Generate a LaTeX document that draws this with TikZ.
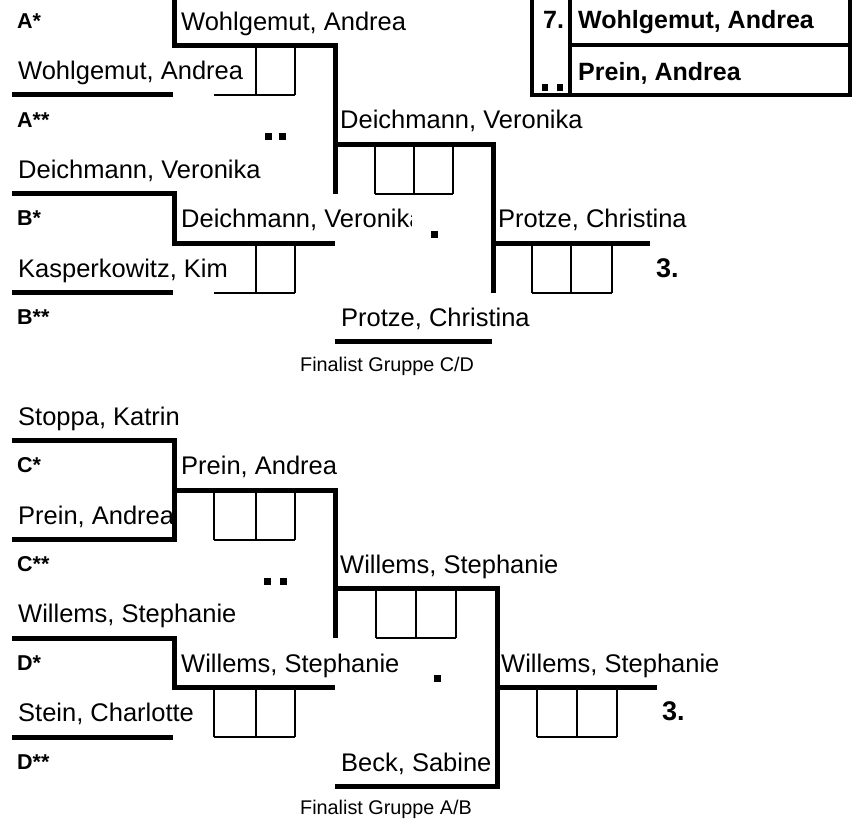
\documentclass[tikz,border=0pt]{standalone}
\usepackage{fontspec}
\setmainfont{Liberation Sans}
\begin{document}
\begin{tikzpicture}[x=1pt,y=-1pt,
  thk/.style={line width=5pt, line join=miter},
  thn/.style={line width=2pt},
  tbl/.style={line width=4pt, line join=miter},
  nm/.style={font=\fontsize{25.5}{30}\selectfont, anchor=base west, inner sep=0pt},
  nmb/.style={font=\fontsize{25}{30}\selectfont\bfseries, anchor=base west, inner sep=0pt},
  lbl/.style={font=\fontsize{21.5}{26}\selectfont\bfseries, anchor=west, inner sep=0pt},
  plc/.style={font=\fontsize{27}{32}\selectfont\bfseries, anchor=west, inner sep=0pt},
  fin/.style={font=\fontsize{19.8}{24}\selectfont, anchor=west, inner sep=0pt},
  sq/.style={fill=black}
]
\useasboundingbox (0,0) rectangle (865,823);

% ---------- upper block ----------
\draw[thk] (174,0) -- (174,45.5) -- (335,45.5) -- (335,193.7);
\draw[thk] (12,94.9) -- (173,94.9);
\draw[thk] (12,193.7) -- (174,193.7) -- (174,243.1) -- (335,243.1);
\draw[thk] (12,292.5) -- (173,292.5);
\draw[thk] (335,144.3) -- (493,144.3) -- (493,292.5);
\draw[thk] (493,243.1) -- (650,243.1);
\draw[thk] (335,341.9) -- (492,341.9);

% boxes
\draw[thn] (256,45.5) -- (256,94.9) (295,45.5) -- (295,94.9) (214,94.9) -- (295,94.9);
\draw[thn] (256,243.1) -- (256,292.5) (295,243.1) -- (295,292.5) (214,292.5) -- (295,292.5);
\draw[thn] (375,144.3) -- (375,193.7) (414,144.3) -- (414,193.7) (453,144.3) -- (453,193.7) (375,193.7) -- (453,193.7);
\draw[thn] (532,243.1) -- (532,292.5) (571,243.1) -- (571,292.5) (612,243.1) -- (612,292.5) (532,292.5) -- (612,292.5);

% table top right
\draw[tbl] (531.7,0) -- (531.7,95) -- (850,95) -- (850,0);
\draw[tbl] (570,0) -- (570,95);
\draw[tbl] (570,45) -- (850,45);

% squares
\fill[sq] (265,132.5) rectangle +(7,7);
\fill[sq] (279,132.5) rectangle +(7,7);
\fill[sq] (431,231.2) rectangle +(7,7);
\fill[sq] (541.7,84) rectangle +(6.7,6.7);
\fill[sq] (556.7,84) rectangle +(6.7,6.7);

% labels
\node[lbl] (la1) at (17,20.8) {A*};
\node[lbl] (la2) at (17,119.6) {A**};
\node[lbl] (lb1) at (17,218.4) {B*};
\node[lbl] (lb2) at (17,317.2) {B**};

% names left
\node[nm] (n1) at (18,79.4) {Wohlgemut, Andrea};
\node[nm] (n2) at (18,178.2) {Deichmann, Veronika};
\node[nm] (n3) at (18,277) {Kasperkowitz, Kim};

% names second column
\node[nm] (m1) at (181,30) {Wohlgemut, Andrea};
\begin{scope}
  \clip (176,200) rectangle (411,240);
  \node[nm] (m2) at (181,227.6) {Deichmann, Veronika};
\end{scope}

% third column
\node[nm] (s1) at (340,128.8) {Deichmann, Veronika};
\node[nm] (s2) at (341,326.4) {Protze, Christina};

% final
\node[nm] (f1) at (498,227.6) {Protze, Christina};
\node[plc] (p1) at (656,268.5) {3.};
\node[fin] (g1) at (300,366) {Finalist Gruppe C/D};

% table texts
\node[nmb] (t7) at (543,28) {7.};
\node[nmb] (t1) at (578,28) {Wohlgemut, Andrea};
\node[nmb] (t2) at (578,80) {Prein, Andrea};

% ---------- lower block ----------
\draw[thk] (12,440.7) -- (174,440.7) -- (174,539.5) -- (12,539.5);
\draw[thk] (174,490.1) -- (335,490.1) -- (335,638.3);
\draw[thk] (12,638.3) -- (174,638.3) -- (174,687.7) -- (335,687.7);
\draw[thk] (12,737.1) -- (173,737.1);
\draw[thk] (335,588.9) -- (497,588.9) -- (497,786.5) -- (335,786.5);
\draw[thk] (497,687.7) -- (657,687.7);

\draw[thn] (214,490.1) -- (214,539.5) (256,490.1) -- (256,539.5) (295,490.1) -- (295,539.5) (214,539.5) -- (295,539.5);
\draw[thn] (214,687.7) -- (214,737.1) (256,687.7) -- (256,737.1) (295,687.7) -- (295,737.1) (214,737.1) -- (295,737.1);
\draw[thn] (376,588.9) -- (376,638.3) (416,588.9) -- (416,638.3) (456,588.9) -- (456,638.3) (376,638.3) -- (456,638.3);
\draw[thn] (537,687.7) -- (537,737.1) (577,687.7) -- (577,737.1) (617,687.7) -- (617,737.1) (537,737.1) -- (617,737.1);

\fill[sq] (264,577.5) rectangle +(7,7);
\fill[sq] (279.5,577.5) rectangle +(7,7);
\fill[sq] (433.5,675) rectangle +(7,7);

\node[lbl] (lc1) at (17,465.4) {C*};
\node[lbl] (lc2) at (17,564.2) {C**};
\node[lbl] (ld1) at (17,663) {D*};
\node[lbl] (ld2) at (17,761.8) {D**};

\node[nm] (n4) at (18,425.2) {Stoppa, Katrin};
\node[nm] (n5) at (18,524) {Prein, Andrea};
\node[nm] (n6) at (18,622.8) {Willems, Stephanie};
\node[nm] (n7) at (18,721.6) {Stein, Charlotte};

\node[nm] (m3) at (181,474.6) {Prein, Andrea};
\node[nm] (m4) at (181,672.2) {Willems, Stephanie};

\node[nm] (s3) at (340,573.4) {Willems, Stephanie};
\node[nm] (s4) at (341,771) {Beck, Sabine};

\node[nm] (f2) at (501,672.2) {Willems, Stephanie};
\node[plc] (p2) at (662,711) {3.};
\node[fin] (g2) at (300,809) {Finalist Gruppe A/B};
\end{tikzpicture}
\end{document}
